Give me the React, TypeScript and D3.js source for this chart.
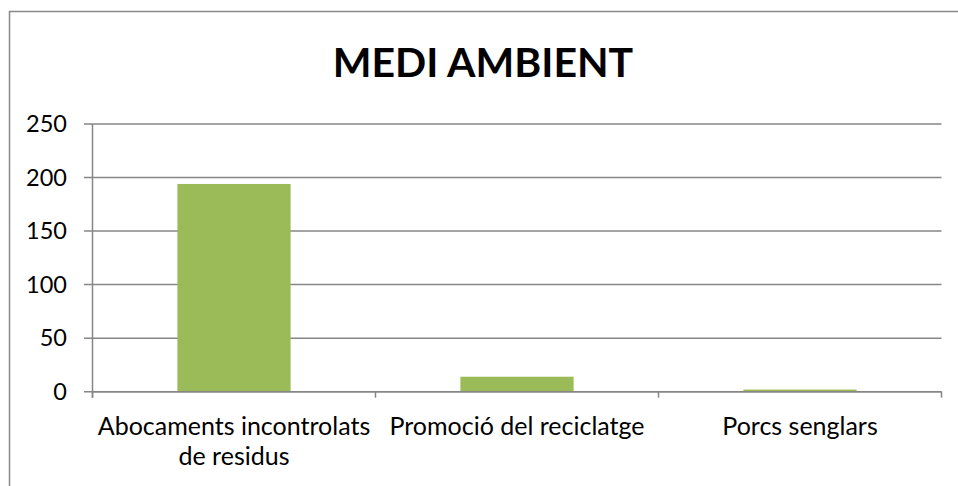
import React from "react";
import * as d3 from "d3";

const title = "MEDI AMBIENT";
const categories: string[][] = [
  ["Abocaments incontrolats", "de residus"],
  ["Promoció del reciclatge"],
  ["Porcs senglars"],
];
const values = [194, 14, 2];
const yTicks = [0, 50, 100, 150, 200, 250];

const W = 958;
const H = 486;
const FONT = "Lato, 'Open Sans', sans-serif";
const GRID = "#868686";
const BAR = "#9BBB59";

export default function App() {
  const left = 92.5;
  const right = 941.5;
  const top = 124;
  const bottom = 391.7;

  const x = d3
    .scaleBand<number>()
    .domain(d3.range(categories.length))
    .range([left, right])
    .paddingInner(0)
    .paddingOuter(0);
  const y = d3.scaleLinear().domain([0, 250]).range([bottom, top]);
  const bw = x.bandwidth() * 0.4;
  const boundaries = d3.range(categories.length + 1).map((i) => left + i * x.step());

  return (
    <svg
      width={W}
      height={H}
      style={{ position: "absolute", left: 0, top: 0, background: "#fff" }}
    >
      <rect x={9.5} y={11.5} width={W + 20} height={H + 20} fill="#fff" stroke="#898989" strokeWidth={1.5} />
      <text
        x={483}
        y={77}
        textAnchor="middle"
        fontFamily={FONT}
        fontWeight="bold"
        fontSize={41}
        fill="#000"
      >
        {title}
      </text>
      {yTicks.map((t) => (
        <g key={t}>
          <line x1={84} x2={right} y1={y(t)} y2={y(t)} stroke={GRID} strokeWidth={1.5} />
          <text
            x={67}
            y={y(t)}
            dy="0.35em"
            textAnchor="end"
            fontFamily={FONT}
            fontSize={23.5}
            fill="#000"
          >
            {t}
          </text>
        </g>
      ))}
      {values.map((v, i) => (
        <rect
          key={i}
          x={(x(i) as number) + (x.bandwidth() - bw) / 2}
          y={y(v)}
          width={bw}
          height={bottom - y(v)}
          fill={BAR}
        />
      ))}
      <line x1={left} x2={left} y1={top} y2={bottom + 6} stroke={GRID} strokeWidth={1.5} />
      <line x1={left} x2={right} y1={bottom} y2={bottom} stroke={GRID} strokeWidth={1.5} />
      {boundaries.map((b, i) => (
        <line key={i} x1={b} x2={b} y1={bottom} y2={bottom + 6} stroke={GRID} strokeWidth={1.5} />
      ))}
      {categories.map((lines, i) => (
        <text
          key={i}
          x={(x(i) as number) + x.bandwidth() / 2}
          y={435}
          textAnchor="middle"
          fontFamily={FONT}
          fontSize={25}
          fill="#000"
        >
          {lines.map((l, j) => (
            <tspan key={j} x={(x(i) as number) + x.bandwidth() / 2} dy={j === 0 ? 0 : 30}>
              {l}
            </tspan>
          ))}
        </text>
      ))}
    </svg>
  );
}
